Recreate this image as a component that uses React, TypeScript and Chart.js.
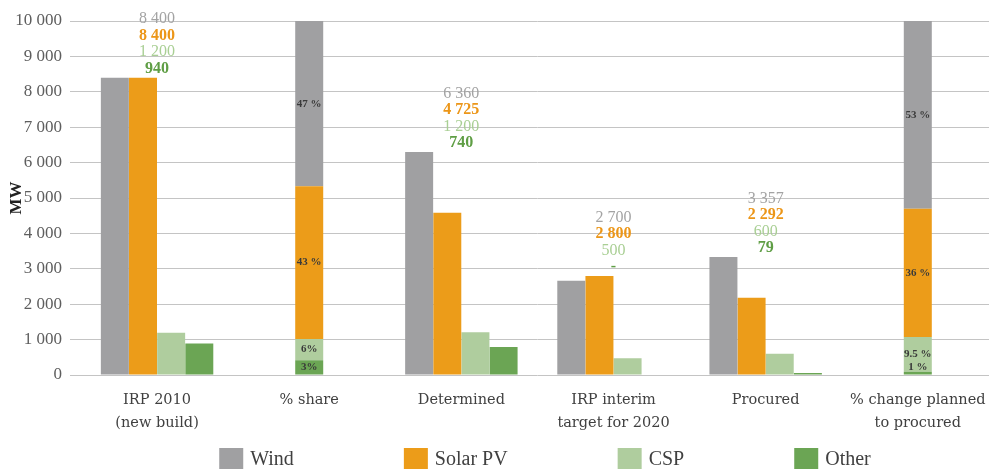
import React, { useEffect, useRef } from "react";
import { Chart, registerables } from "chart.js";

Chart.register(...registerables);

// ---------- data ----------
const categories: string[][] = [
  ["IRP 2010", "(new build)"],
  ["% share"],
  ["Determined"],
  ["IRP interim", "target for 2020"],
  ["Procured"],
  ["% change planned", "to procured"],
];
const seriesNames = ["Wind", "Solar PV", "CSP", "Other"];

// grouped bars (MW)
const windMW = [8400, null, 6300, 2660, 3330, null];
const solarMW = [8400, null, 4580, 2800, 2180, null];
const cspMW = [1190, null, 1210, 470, 600, null];
const otherMW = [890, null, 790, 0, 60, null];

// stacked percentage bars (drawn on the MW axis, 100 % = 10 000)
const windShare = [null, 4670, null, null, null, 5305];
const solarShare = [null, 4310, null, null, null, 3625];
const cspShare = [null, 600, null, null, null, 975];
const otherShare = [null, 420, null, null, null, 95];

// labels inside the stacked bars
const windPctLabels = [null, "47 %", null, null, null, "53 %"];
const solarPctLabels = [null, "43 %", null, null, null, "36 %"];
const cspPctLabels = [null, "6%", null, null, null, "9.5 %"];
const otherPctLabels = [null, "3%", null, null, null, "1 %"];

// value labels above the groups
const windTopLabels = ["8 400", null, "6 360", "2 700", "3 357", null];
const solarTopLabels = ["8 400", null, "4 725", "2 800", "2 292", null];
const cspTopLabels = ["1 200", null, "1 200", "500", "600", null];
const otherTopLabels = ["940", null, "740", "-", "79", null];

const yMin = 0;
const yMax = 10000;
const yStep = 1000;

// ---------- styles ----------
const FONT = "'Liberation Serif', 'Times New Roman', serif";
const FONT_WIDE = "'DejaVu Serif', 'Liberation Serif', serif";
const barColors = ["#a0a0a2", "#ec9c19", "#afcd9e", "#6ba554"];
const topLabelColors = ["#a3a3a3", "#ec9618", "#a9cf94", "#5f9e45"];
const topLabelBold = [false, true, false, true];

const fmt = (v: number) => String(v).replace(/\B(?=(\d{3})+(?!\d))/g, " ");

const labelPlugin = {
  id: "valueLabels",
  afterDatasetsDraw(chart: any) {
    const ctx = chart.ctx;
    const ys = chart.scales.y;
    const xs = chart.scales.x;
    ctx.save();
    ctx.textAlign = "center";
    ctx.textBaseline = "middle";
    const grouped = [windMW, solarMW, cspMW, otherMW];
    const tops = [windTopLabels, solarTopLabels, cspTopLabels, otherTopLabels];
    categories.forEach((_, i) => {
      const lines = tops.map((a) => a[i]);
      if (lines.every((l) => l == null)) return;
      const maxV = Math.max(...grouped.map((a) => (a[i] ?? 0) as number));
      const topPx = ys.getPixelForValue(maxV);
      const cx = xs.getPixelForValue(i);
      lines.forEach((t, k) => {
        if (t == null) return;
        ctx.font = `${topLabelBold[k] ? "bold " : ""}16px ${FONT}`;
        ctx.fillStyle = topLabelColors[k];
        ctx.fillText(t, cx, topPx - 9 - (3 - k) * 16.5);
      });
    });
    // percentage labels inside stacked bars
    const pct = [otherPctLabels, cspPctLabels, solarPctLabels, windPctLabels];
    ctx.font = `bold 11px ${FONT}`;
    ctx.fillStyle = "#3a3a3a";
    pct.forEach((arr, k) => {
      const meta = chart.getDatasetMeta(4 + k);
      arr.forEach((t, i) => {
        if (t == null) return;
        const el = meta.data[i];
        if (!el) return;
        let cy = (el.y + el.base) / 2;
        const zero = ys.getPixelForValue(0);
        if (cy > zero - 8) cy = zero - 8;
        ctx.fillText(t, el.x, cy);
      });
    });
    ctx.restore();
  },
};

const legendPlugin = {
  id: "bottomLegend",
  afterDraw(chart: any) {
    const ctx = chart.ctx;
    ctx.save();
    ctx.font = `20px ${FONT}`;
    ctx.textBaseline = "middle";
    ctx.textAlign = "left";
    const box = 24;
    const boxGap = 7;
    const itemGap = 110;
    const widths = seriesNames.map((n) => box + boxGap + ctx.measureText(n).width);
    const total = widths.reduce((a, b) => a + b, 0) + itemGap * (seriesNames.length - 1);
    const center = 545;
    let x = center - total / 2;
    const top = 448;
    seriesNames.forEach((n, k) => {
      ctx.fillStyle = barColors[k];
      ctx.fillRect(x, top, box, 22);
      ctx.fillStyle = "#404040";
      ctx.fillText(n, x + box + boxGap, top + 12);
      x += widths[k] + itemGap;
    });
    ctx.restore();
  },
};

export default function App() {
  const ref = useRef<HTMLCanvasElement | null>(null);

  useEffect(() => {
    if (!ref.current) return;
    const common = {
      maxBarThickness: 28,
      barPercentage: 1,
      categoryPercentage: 0.74,
      skipNull: true,
      borderWidth: 0,
    };
    const groupedData = [windMW, solarMW, cspMW, otherMW];
    const stackData = [otherShare, cspShare, solarShare, windShare];
    const stackColors = [barColors[3], barColors[2], barColors[1], barColors[0]];
    const stackNames = ["Other", "CSP", "Solar PV", "Wind"];
    const datasets: any[] = [
      ...groupedData.map((d, k) => ({
        label: seriesNames[k],
        data: d,
        backgroundColor: barColors[k],
        stack: "g" + k,
        ...common,
      })),
      ...stackData.map((d, k) => ({
        label: stackNames[k] + " %",
        data: d,
        backgroundColor: stackColors[k],
        stack: "pct",
        ...common,
      })),
    ];

    const chart = new Chart(ref.current, {
      type: "bar",
      data: { labels: categories as any, datasets },
      options: {
        animation: false,
        responsive: false,
        devicePixelRatio: 1,
        layout: { padding: { top: 21, right: 0, left: 0, bottom: 0 } },
        datasets: { bar: { skipNull: true } } as any,
        plugins: {
          legend: { display: false },
          tooltip: { enabled: false },
        },
        scales: {
          x: {
            stacked: true,
            grid: { display: false, drawTicks: false },
            border: { display: false },
            ticks: {
              font: { family: FONT_WIDE, size: 14.5, lineHeight: 1.586 },
              color: "#404040",
              padding: 13.5,
              maxRotation: 0,
              autoSkip: false,
            },
            afterFit: (s: any) => {
              s.height = 94;
            },
          },
          y: {
            stacked: true,
            min: yMin,
            max: yMax,
            grid: {
              color: "#c4c4c4",
              lineWidth: 1,
              drawTicks: true,
              tickLength: 11,
            },
            border: { display: false },
            ticks: {
              stepSize: yStep,
              font: { family: FONT, size: 17 },
              color: "#5e5e5e",
              padding: 8,
              callback: (v: any) => fmt(Number(v)),
            },
            title: {
              display: true,
              text: "MW",
              font: { family: FONT, size: 17, weight: "bold" },
              color: "#222222",
              padding: { top: 6, bottom: 0 },
            },
            afterFit: (s: any) => {
              s.width = 81;
            },
          },
        },
      } as any,
      plugins: [labelPlugin, legendPlugin],
    });
    return () => chart.destroy();
  }, []);

  return (
    <div
      style={{
        position: "fixed",
        left: 0,
        top: 0,
        width: 989,
        height: 469,
        overflow: "hidden",
        background: "#ffffff",
      }}
    >
      <canvas
        ref={ref}
        width={999}
        height={469}
        style={{ display: "block", width: 999, height: 469 }}
      />
    </div>
  );
}
